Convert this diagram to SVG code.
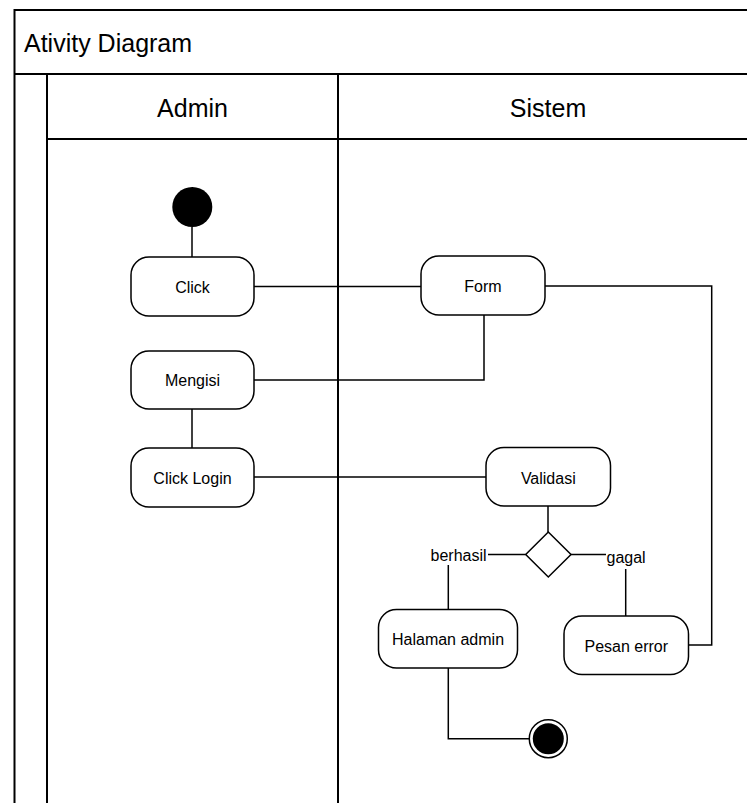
<svg xmlns="http://www.w3.org/2000/svg" width="747" height="803" viewBox="0 0 747 803">
  <style>
    .frame { fill: none; stroke: #000; stroke-width: 2; }
    .act { fill: #fff; stroke: #000; stroke-width: 1.5; }
    .edge { fill: none; stroke: #000; stroke-width: 1.5; }
    text { font-family: "Liberation Sans", Arial, sans-serif; fill: #000; }
    .big { font-size: 25px; }
    .lbl { font-size: 16px; text-anchor: middle; }
    .guard { font-size: 16px; }
  </style>
  <rect width="747" height="803" fill="#fff"/>

  <!-- swimlane frame -->
  <g id="frame">
    <path class="frame" d="M14.5 803 V10 H760 M14.5 74 H760 M47 74 V803 M47 139 H760 M338 74 V803"/>
    <text class="big" x="24" y="52">Ativity Diagram</text>
    <text class="big" x="192.5" y="117" text-anchor="middle">Admin</text>
    <text class="big" x="548" y="117" text-anchor="middle">Sistem</text>
  </g>

  <!-- connectors -->
  <g id="connectors">
    <path class="edge" d="M192 227 V257"/>
    <path class="edge" d="M254 286.5 H421"/>
    <path class="edge" d="M484 315 V380 H254"/>
    <path class="edge" d="M192 409 V448"/>
    <path class="edge" d="M254 477 H486"/>
    <path class="edge" d="M548 506 V532"/>
    <path class="edge" d="M525.7 554.5 H488"/>
    <path class="edge" d="M448.3 565 V609"/>
    <path class="edge" d="M571 554.5 H606"/>
    <path class="edge" d="M625.7 569 V616"/>
    <path class="edge" d="M545 286 H711.7 V645 H688"/>
    <path class="edge" d="M448.3 668 V738.7 H529"/>
  </g>

  <g id="start">
    <circle cx="192.3" cy="207" r="20" fill="#000"/>
  </g>
  <g id="click">
    <rect class="act" x="131" y="257" width="123" height="59" rx="18"/>
    <text class="lbl" x="192.5" y="292.5">Click</text>
  </g>
  <g id="mengisi">
    <rect class="act" x="131" y="351" width="123" height="58" rx="18"/>
    <text class="lbl" x="192.5" y="386">Mengisi</text>
  </g>
  <g id="click-login">
    <rect class="act" x="131" y="448" width="123" height="59" rx="18"/>
    <text class="lbl" x="192.5" y="483.5">Click Login</text>
  </g>
  <g id="form">
    <rect class="act" x="421" y="256" width="124" height="59" rx="18"/>
    <text class="lbl" x="483" y="292">Form</text>
  </g>
  <g id="validasi">
    <rect class="act" x="486" y="447.5" width="124.5" height="58.5" rx="18"/>
    <text class="lbl" x="548.3" y="483.5">Validasi</text>
  </g>
  <g id="decision">
    <polygon class="act" points="548.3,532 571,554.5 548.3,577 525.7,554.5"/>
    <text class="guard" x="430.5" y="560.5">berhasil</text>
    <text class="guard" x="606.5" y="563">gagal</text>
  </g>
  <g id="halaman-admin">
    <rect class="act" x="378.5" y="609.5" width="139" height="58.5" rx="18"/>
    <text class="lbl" x="448" y="644.5">Halaman admin</text>
  </g>
  <g id="pesan-error">
    <rect class="act" x="564" y="616" width="124.5" height="58.5" rx="18"/>
    <text class="lbl" x="626.3" y="651.5">Pesan error</text>
  </g>
  <g id="end">
    <circle cx="548.3" cy="738.7" r="19" fill="#fff" stroke="#000" stroke-width="1.5"/>
    <circle cx="548.3" cy="738.7" r="15.5" fill="#000"/>
  </g>
</svg>
